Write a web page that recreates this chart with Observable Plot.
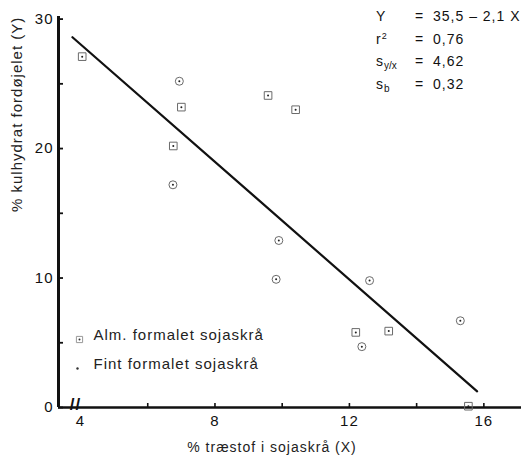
<!DOCTYPE html>
<html><head><meta charset="utf-8">
<script src="https://cdn.jsdelivr.net/npm/d3@7"></script>
<script src="https://cdn.jsdelivr.net/npm/@observablehq/plot@0.6"></script>
<style>
body{margin:0;background:#fff;}
#wrap{position:relative;width:521px;height:460px;font-family:"Liberation Sans",Arial,Helvetica,sans-serif;}
#stats{position:absolute;left:376px;top:5px;font-size:14px;letter-spacing:1px;color:#111;}
#stats .row{height:22.5px;line-height:22.5px;white-space:nowrap;}
#stats .k{display:inline-block;width:39px;}
#stats .eq{display:inline-block;width:18px;}
#stats sub{font-size:10px;vertical-align:-3px;line-height:0;letter-spacing:0;}
#stats sup{font-size:9px;vertical-align:5px;line-height:0;}
</style></head><body>
<div id="wrap"><div id="stats"></div></div>
<script>
// Data
const almX = [4.05, 7.0, 6.76, 9.58, 10.4, 12.19, 13.17, 15.54];
const almY = [27.1, 23.2, 20.2, 24.1, 23.0, 5.8, 5.9, 0.1];
const fintX = [6.94, 6.75, 9.9, 9.82, 12.6, 12.37, 15.3];
const fintY = [25.2, 17.2, 12.9, 9.9, 9.8, 4.7, 6.7];
const regX = [3.76, 15.8];
const regY = [28.6, 1.25];
const xDomain = [3.345, 17.12];
const yDomain = [0, 30.2];
const xTickLabels = [4, 8, 12, 16];
const xTickMarks = [6, 8, 10, 12, 14, 16];
const yTickLabels = [0, 10, 20, 30];
const yTickMarks = [0, 5, 10, 15, 20, 25, 30];
const breakX = [3.85];
const seriesNames = ["Alm. formalet sojaskrå", "Fint formalet sojaskrå"];
const xTitle = "% træstof i sojaskrå (X)";
const yTitle = "% kulhydrat fordøjelet (Y)";
const statKeys = ["Y", "r<sup>2</sup>", "s<sub>y/x</sub>", "s<sub>b</sub>"];
const statVals = ["35,5 – 2,1 X", "0,76", "4,62", "0,32"];

const alm = almX.map((x, i) => ({x, y: almY[i]}));
const fint = fintX.map((x, i) => ({x, y: fintY[i]}));
const reg = regX.map((x, i) => ({x, y: regY[i]}));

const FONT = "Liberation Sans, Arial, Helvetica, sans-serif";
const ptStroke = "#6a6a6a";
const W = 521, H = 460, ML = 58, MR = 0, MT = 16, MB = 53;
// tick lengths converted to data units via the scale extents
const xUnitPx = (W - ML - MR) / (xDomain[1] - xDomain[0]);
const yUnitPx = (H - MT - MB) / (yDomain[1] - yDomain[0]);
const yTickLen = 5 / xUnitPx, xTickLen = 4 / yUnitPx;

const chart = Plot.plot({
  width: W, height: H,
  marginLeft: ML, marginRight: MR, marginTop: MT, marginBottom: MB,
  style: {fontFamily: FONT, fontSize: "15px", color: "#111", background: "#fff", letterSpacing: "1px"},
  x: {domain: xDomain, axis: null},
  y: {domain: yDomain, axis: null},
  marks: [
    // axes lines
    Plot.ruleY([0], {stroke: "#111", strokeWidth: 2.6}),
    Plot.ruleX([xDomain[0]], {stroke: "#111", strokeWidth: 3}),
    // inward ticks
    Plot.ruleY(yTickMarks, {y: d => d, x1: xDomain[0], x2: xDomain[0] + yTickLen, stroke: "#111", strokeWidth: 1.8}),
    Plot.ruleX(xTickMarks, {x: d => d, y1: 0, y2: xTickLen, stroke: "#111", strokeWidth: 1.6}),
    // tick labels
    Plot.axisX({ticks: xTickLabels, tickSize: 0, tickPadding: 8, label: null, fontSize: 15}),
    Plot.axisY({ticks: yTickLabels, tickSize: 0, tickPadding: 5, label: null, fontSize: 15}),
    // axis break
    Plot.text(breakX, {x: d => d, y: 0, dy: -3, text: () => "//", fontSize: 17, fontWeight: "bold", fill: "#111"}),
    // axis titles
    Plot.text([xTitle], {frameAnchor: "bottom", dx: -18, dy: 44, fontSize: 14, fill: "#222"}),
    Plot.text([yTitle], {frameAnchor: "left", dx: -41, rotate: -90, fontSize: 15, fill: "#222"}),
    // regression line
    Plot.line(reg, {x: "x", y: "y", stroke: "#111", strokeWidth: 2.2}),
    // points
    Plot.dot(alm, {x: "x", y: "y", symbol: "square", r: 4.3, stroke: ptStroke, strokeWidth: 1}),
    Plot.dot(alm, {x: "x", y: "y", r: 1, fill: "#222"}),
    Plot.dot(fint, {x: "x", y: "y", symbol: "circle", r: 4, stroke: ptStroke, strokeWidth: 1}),
    Plot.dot(fint, {x: "x", y: "y", r: 1, fill: "#222"}),
    // legend
    Plot.dot([seriesNames[0]], {frameAnchor: "bottom-left", dx: 21, dy: -68, symbol: "square", r: 3.5, stroke: "#999", strokeWidth: 1}),
    Plot.dot([seriesNames[0]], {frameAnchor: "bottom-left", dx: 21, dy: -68, r: 1, fill: "#333"}),
    Plot.dot([seriesNames[1]], {frameAnchor: "bottom-left", dx: 19, dy: -39, r: 1.2, fill: "#333"}),
    Plot.text([seriesNames[0]], {frameAnchor: "bottom-left", dx: 35, dy: -68, textAnchor: "start", fontSize: 15, fill: "#222"}),
    Plot.text([seriesNames[1]], {frameAnchor: "bottom-left", dx: 35, dy: -39, textAnchor: "start", fontSize: 15, fill: "#222"})
  ]
});
document.getElementById("wrap").prepend(chart);

document.getElementById("stats").innerHTML = statKeys.map((k, i) =>
  `<div class="row"><span class="k">${k}</span><span class="eq">=</span><span>${statVals[i]}</span></div>`).join("");
</script>
</body></html>
